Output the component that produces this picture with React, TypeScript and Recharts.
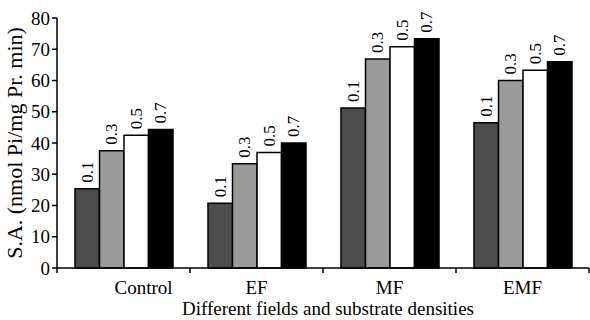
import React from 'react';
import { BarChart, Bar, XAxis, YAxis, LabelList, Label } from 'recharts';

const categories = ['Control', 'EF', 'MF', 'EMF'];
const densities = ['0.1', '0.3', '0.5', '0.7'];
const d01 = [25.4, 20.7, 51.2, 46.5];
const d03 = [37.5, 33.4, 66.9, 60.0];
const d05 = [42.5, 37.0, 70.8, 63.3];
const d07 = [44.3, 40.0, 73.4, 66.0];
const yTicks = [0, 10, 20, 30, 40, 50, 60, 70, 80];
// group edges (integers) and group centres (halves) on the x axis
const xTicks = [0, 0.5, 1, 1.5, 2, 2.5, 3, 3.5, 4];

const font = 'Liberation Serif';

const data = categories.map((name, i) => ({
  name,
  pos: i + 0.5,
  d01: d01[i],
  d03: d03[i],
  d05: d05[i],
  d07: d07[i],
}));

const series = [
  { key: 'd01', fill: '#4d4d4d', label: densities[0] },
  { key: 'd03', fill: '#9a9a9a', label: densities[1] },
  { key: 'd05', fill: '#ffffff', label: densities[2] },
  { key: 'd07', fill: '#000000', label: densities[3] },
];

const BarTopLabel = (text: string) => (props: any) => {
  const { x, y, width } = props;
  const cx = x + width / 2;
  const ty = y - 6;
  return (
    <text
      x={cx}
      y={ty}
      transform={`rotate(-90 ${cx} ${ty})`}
      textAnchor="start"
      dominantBaseline="central"
      fontFamily={font}
      fontSize={17}
      fill="#000"
    >
      {text}
    </text>
  );
};

const XTick = (props: any) => {
  const { x, y, payload } = props;
  const v = payload.value;
  if (Number.isInteger(v)) {
    return <line x1={x} x2={x} y1={y} y2={y + 5} stroke="#000" strokeWidth={1.5} />;
  }
  const name = categories[Math.floor(v)];
  // the first label sits a bit right of its group centre in the original
  const dx = name === 'Control' ? 20 : 0;
  return (
    <text x={x + dx} y={y + 13} dy="0.71em" textAnchor="middle" fontFamily={font} fontSize={19} fill="#000">
      {name}
    </text>
  );
};

const App: React.FC = () => {
  return (
    <div style={{ position: 'absolute', left: 0, top: 0, width: 590, height: 320, background: '#fff' }}>
      <BarChart
        width={590}
        height={320}
        data={data}
        margin={{ top: 18, right: 1, left: 0, bottom: 0 }}
        barGap={0}
        barSize={24.5}
      >
        <XAxis
          dataKey="pos"
          type="number"
          domain={[0, 4]}
          ticks={xTicks}
          interval={0}
          height={52}
          tickSize={0}
          tickMargin={0}
          tickLine={false}
          tick={XTick}
          axisLine={{ stroke: '#000', strokeWidth: 1.5 }}
        >
          <Label
            content={(p: any) => {
              const vb = p.viewBox;
              return (
                <text
                  x={vb.x + vb.width / 2 + 5}
                  y={vb.y + vb.height - 5}
                  textAnchor="middle"
                  fontFamily={font}
                  fontSize={19}
                  fill="#000"
                >
                  Different fields and substrate densities
                </text>
              );
            }}
          />
        </XAxis>
        <YAxis
          width={57}
          domain={[0, 80]}
          ticks={yTicks}
          interval={0}
          tickSize={5}
          tickMargin={2}
          axisLine={{ stroke: '#000', strokeWidth: 1.5 }}
          tickLine={{ stroke: '#000', strokeWidth: 1.5 }}
          tick={{ fill: '#000', fontSize: 19, fontFamily: font }}
        >
          <Label
            content={(p: any) => {
              const vb = p.viewBox;
              const cx = 14;
              const cy = vb.y + vb.height / 2;
              return (
                <text
                  x={cx}
                  y={cy}
                  transform={`rotate(-90 ${cx} ${cy})`}
                  textAnchor="middle"
                  dominantBaseline="central"
                  fontFamily={font}
                  fontSize={22}
                  fill="#000"
                >
                  S.A. (nmol Pi/mg Pr. min)
                </text>
              );
            }}
          />
        </YAxis>
        {series.map((s) => (
          <Bar
            key={s.key}
            dataKey={s.key}
            fill={s.fill}
            stroke="#000"
            strokeWidth={1.5}
            isAnimationActive={false}
          >
            <LabelList dataKey={s.key} content={BarTopLabel(s.label)} />
          </Bar>
        ))}
      </BarChart>
    </div>
  );
};

export default App;
